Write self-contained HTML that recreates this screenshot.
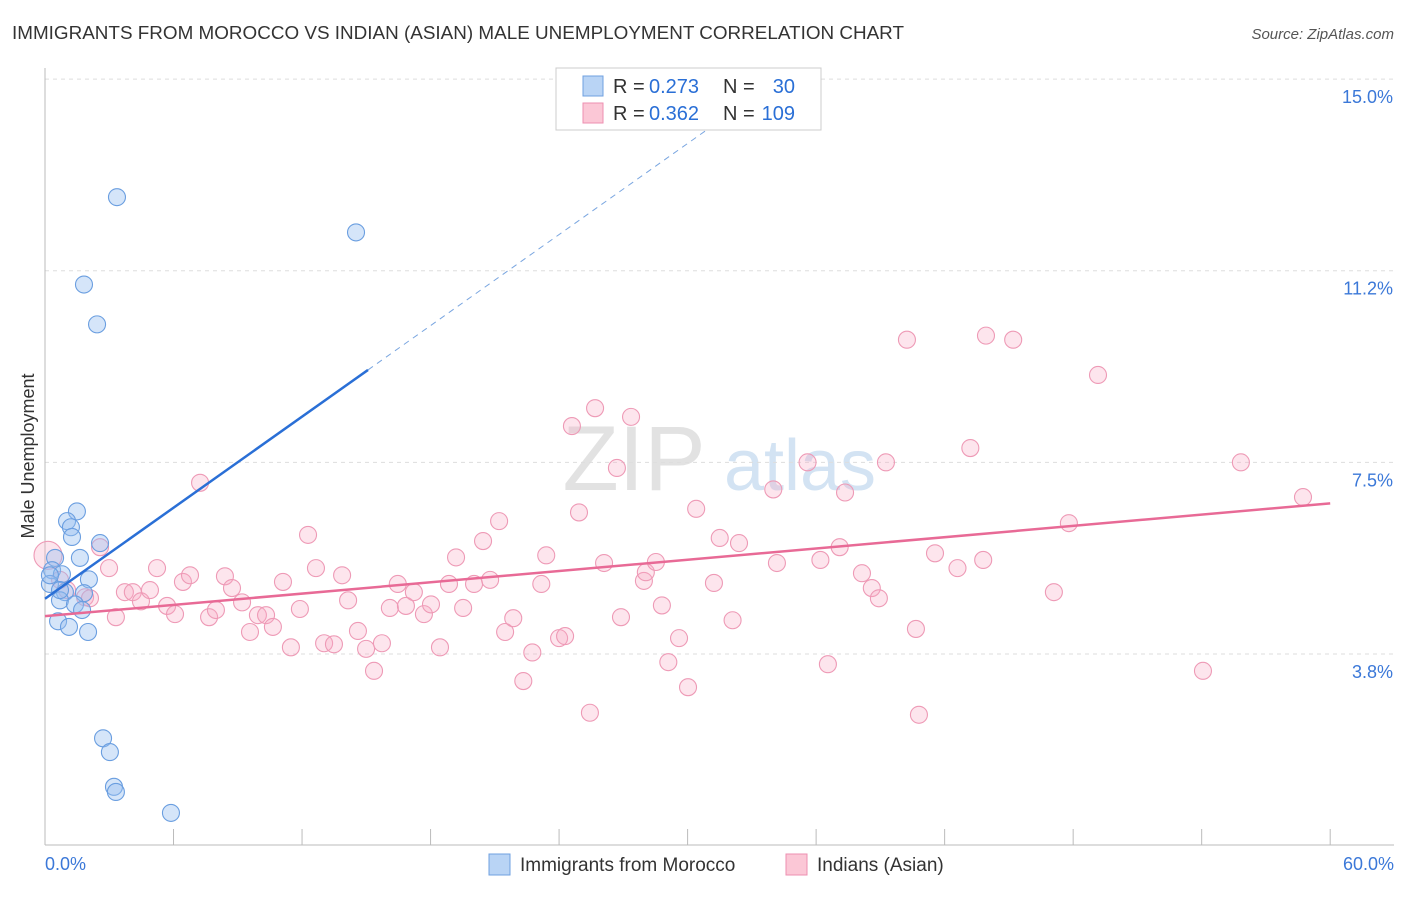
<!DOCTYPE html>
<html><head><meta charset="utf-8"><style>
body{margin:0;background:#fff;font-family:"Liberation Sans",sans-serif}
svg text{font-family:"Liberation Sans",sans-serif}
</style></head><body>
<svg width="1406" height="892">
<text x="12" y="39" font-size="18" fill="#333" textLength="892" lengthAdjust="spacingAndGlyphs">IMMIGRANTS FROM MOROCCO VS INDIAN (ASIAN) MALE UNEMPLOYMENT CORRELATION CHART</text>
<text x="1394" y="39" font-size="15" fill="#555" font-style="italic" text-anchor="end">Source: ZipAtlas.com</text>
<text x="634" y="490" font-size="92" fill="#e2e2e2" font-family="Liberation Serif" text-anchor="middle">ZIP</text>
<text x="800" y="490" font-size="72" fill="#d3e3f3" text-anchor="middle">atlas</text>
<g id="grid"></g>
<text transform="translate(34,456) rotate(-90)" font-size="18" fill="#333" text-anchor="middle">Male Unemployment</text>
<g id="marks"></g>
<g>
<rect x="556" y="68" width="265" height="62" fill="#fff" stroke="#ccc"/>
<rect x="583" y="76" width="20" height="20" fill="#b9d4f5" stroke="#6fa0e0"/>
<rect x="583" y="103" width="20" height="20" fill="#fbc7d6" stroke="#ee8fb0"/>
<text x="613" y="93" font-size="20" fill="#333">R =</text>
<text x="649" y="93" font-size="20" fill="#2a6fd6">0.273</text>
<text x="723" y="93" font-size="20" fill="#333">N =</text>
<text x="795" y="93" font-size="20" fill="#2a6fd6" text-anchor="end">30</text>
<text x="613" y="120" font-size="20" fill="#333">R =</text>
<text x="649" y="120" font-size="20" fill="#2a6fd6">0.362</text>
<text x="723" y="120" font-size="20" fill="#333">N =</text>
<text x="795" y="120" font-size="20" fill="#2a6fd6" text-anchor="end">109</text>
</g>
<g>
<rect x="489" y="854" width="21" height="21" fill="#b9d4f5" stroke="#6fa0e0"/>
<text x="520" y="871" font-size="19" fill="#333">Immigrants from Morocco</text>
<rect x="786" y="854" width="21" height="21" fill="#fbc7d6" stroke="#ee8fb0"/>
<text x="817" y="871" font-size="19" fill="#333">Indians (Asian)</text>
</g>
</svg>
<script>
const yTicks=[3.75,7.5,11.25,15];
const yTickLabels=["3.8%","7.5%","11.2%","15.0%"];
const xTickLabels=["0.0%","60.0%"];
const blueX=[3.36,14.52,1.82,2.43,1.49,1.03,1.21,1.26,2.57,1.63,0.47,0.33,0.79,2.05,0.23,0.93,1.82,0.70,1.40,1.73,0.61,1.12,2.01,2.71,3.03,3.22,3.31,5.88,0.23,0.70];
const blueY=[12.69,12.0,10.98,10.2,6.54,6.35,6.23,6.04,5.92,5.63,5.63,5.39,5.31,5.21,5.12,4.96,4.94,4.80,4.72,4.61,4.39,4.28,4.18,2.1,1.83,1.15,1.05,0.64,5.29,5.0];
const pinkX=[0.14,7.24,0.7,1.03,1.87,2.1,2.57,2.99,3.31,3.73,4.1,4.48,4.9,5.23,5.7,6.07,6.44,6.77,7.66,7.98,8.4,8.73,9.2,9.57,9.94,10.32,10.64,11.11,11.48,11.9,12.28,12.65,13.03,13.49,13.87,14.15,14.61,14.99,15.36,15.73,16.1,16.47,16.85,17.22,17.69,18.02,18.44,18.86,19.19,19.52,20.03,20.45,20.78,21.2,21.48,21.86,22.33,22.75,23.17,23.4,24.0,24.28,24.6,24.93,25.44,25.68,26.1,26.7,26.89,27.36,27.96,28.05,28.52,28.8,29.1,29.6,30.02,30.4,31.23,31.5,32.1,32.4,34.0,34.17,35.6,36.2,36.55,37.1,37.35,38.14,38.6,38.93,39.26,40.24,40.66,40.8,41.55,42.6,43.2,43.8,43.93,45.2,47.1,47.8,49.16,54.06,55.83,58.73];
const pinkY=[5.68,7.1,5.2,5.0,4.86,4.84,5.84,5.43,4.47,4.96,4.96,4.78,5.0,5.43,4.69,4.53,5.16,5.29,4.47,4.61,5.27,5.04,4.76,4.18,4.51,4.51,4.28,5.16,3.88,4.63,6.08,5.43,3.96,3.94,5.29,4.8,4.2,3.85,3.42,3.96,4.65,5.12,4.69,4.96,4.53,4.72,3.88,5.12,5.64,4.65,5.12,5.96,5.2,6.35,4.18,4.45,3.22,3.78,5.12,5.68,4.06,4.1,8.21,6.52,2.6,8.56,5.53,7.39,4.47,8.39,5.18,5.35,5.55,4.7,3.59,4.06,3.1,6.59,5.14,6.02,4.41,5.92,6.97,5.53,7.5,5.59,3.55,5.84,6.91,5.33,5.04,4.84,7.5,9.9,4.24,2.56,5.72,5.43,7.78,5.59,9.98,9.9,4.96,6.31,9.21,3.42,7.5,6.82];
const blueLine=[4.83,0.297];
const pinkLine=[4.49,0.0368];
const X=v=>45+v*21.42, Y=v=>845.6-v*51.1;
const NS="http://www.w3.org/2000/svg";
function mk(p,t,a){const e=document.createElementNS(NS,t);for(const k in a)e.setAttribute(k,a[k]);p.appendChild(e);return e;}
const g=document.getElementById('grid'),m=document.getElementById('marks');
yTicks.forEach((t,i)=>{
 const l=mk(g,'line',{x1:45,x2:1394,y1:Y(t),y2:Y(t),stroke:'#ddd','stroke-dasharray':'4,4'});
 
 
 const tx=mk(g,'text',{x:1393,y:Y(t)+24,'font-size':18,fill:'#3b78d8','text-anchor':'end'});tx.textContent=yTickLabels[i];
 
 
});
mk(g,'line',{x1:45,x2:45,y1:68,y2:845,stroke:'#bbb'});
mk(g,'line',{x1:45,x2:1394,y1:845,y2:845,stroke:'#bbb'});
for(let i=0;i<=10;i++){mk(g,'line',{x1:X(i*6),x2:X(i*6),y1:829,y2:845,stroke:'#bbb'});}
[[0,'start',45],[1,'end',1394]].forEach(([i,a,x])=>{const t=mk(g,'text',{x:x,y:870,'font-size':18,fill:'#3b78d8','text-anchor':a});t.textContent=xTickLabels[i];
 
 });
pinkX.forEach((x,i)=>{const c=mk(m,'circle',{cx:X(x),cy:Y(pinkY[i]),r:i==0?14:8.5,fill:'rgba(248,170,195,0.3)',stroke:'#ee9ab6','stroke-width':1.1});
 
 });
blueX.forEach((x,i)=>{const c=mk(m,'circle',{cx:X(x),cy:Y(blueY[i]),r:8.5,fill:'rgba(150,190,240,0.4)',stroke:'#6a9ee0','stroke-width':1.1});
 
 });
const bx2=15.08,bx3=(15-blueLine[0])/blueLine[1];
const bl=mk(m,'line',{x1:X(0),y1:Y(blueLine[0]),x2:X(bx2),y2:Y(blueLine[0]+blueLine[1]*bx2),stroke:'#2a6fd6','stroke-width':2.5});


mk(m,'line',{x1:X(bx2),y1:Y(blueLine[0]+blueLine[1]*bx2),x2:X(bx3),y2:Y(15),stroke:'#7aa6e0','stroke-width':1,'stroke-dasharray':'6,5'});
const pl=mk(m,'line',{x1:X(0),y1:Y(pinkLine[0]),x2:X(60),y2:Y(pinkLine[0]+pinkLine[1]*60),stroke:'#e86a96','stroke-width':2.5});


</script>
</body></html>
